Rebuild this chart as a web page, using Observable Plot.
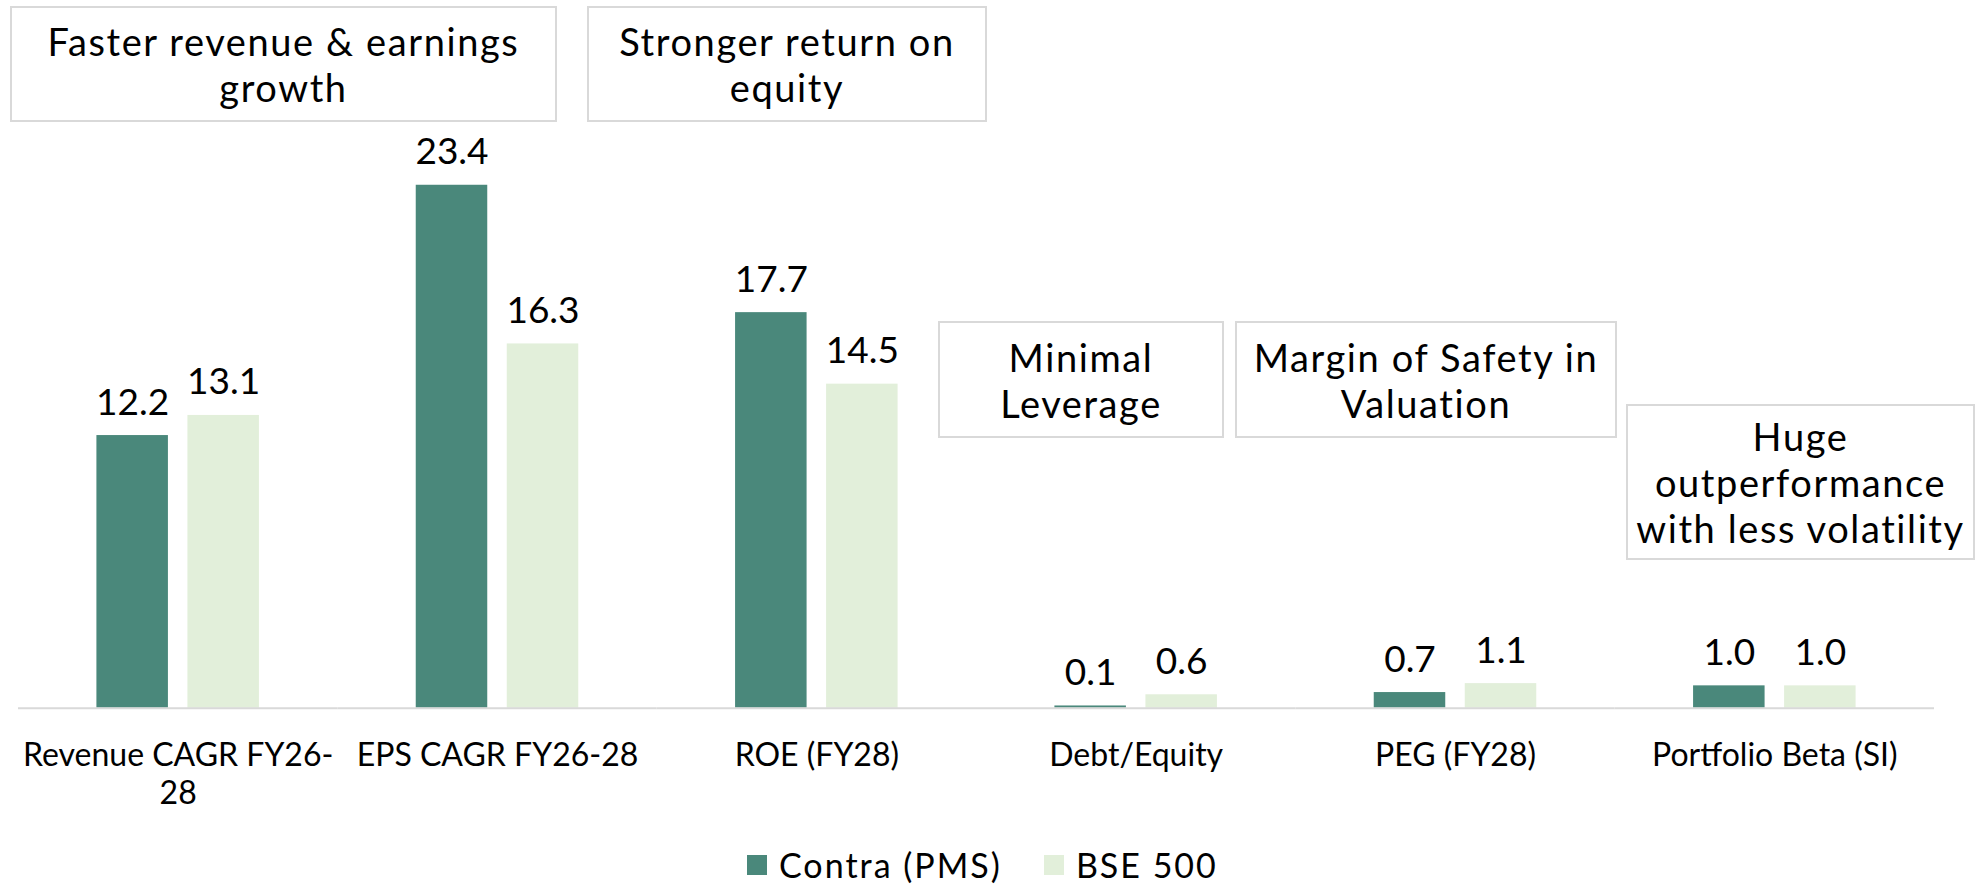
<!DOCTYPE html>
<html>
<head>
<meta charset="utf-8">
<script src="https://cdn.jsdelivr.net/npm/d3@7"></script>
<script src="https://cdn.jsdelivr.net/npm/@observablehq/plot@0.6"></script>
<style>
  html, body { margin: 0; padding: 0; background: #fff; }
  body { width: 1980px; height: 885px; position: relative; font-family: Lato, "Open Sans", sans-serif; color: #000; overflow: hidden; }
  #chart { position: absolute; left: 0; top: 0; }
  .note { position: absolute; box-sizing: border-box; border: 2px solid #d9d9d9; background: #fff;
          display: flex; align-items: center; justify-content: center; text-align: center;
          font-size: 38px; letter-spacing: 1.6px; line-height: 46px; white-space: pre-line; }
  #legend { position: absolute; left: 747px; top: 845px; height: 40px; display: flex; align-items: center; font-size: 34px; letter-spacing: 2px; line-height: 40px; }
  .sw { width: 20px; height: 20px; margin-right: 12px; }
  .item { display: flex; align-items: center; margin-right: 42px; }
</style>
</head>
<body>
<div id="chart"></div>
<script>
// ---- data ----
const categories = ["Revenue CAGR FY26-28", "EPS CAGR FY26-28", "ROE (FY28)", "Debt/Equity", "PEG (FY28)", "Portfolio Beta (SI)"];
const tickLabels = ["Revenue CAGR FY26-\n28", "EPS CAGR FY26-28", "ROE (FY28)", "Debt/Equity", "PEG (FY28)", "Portfolio Beta (SI)"];
const series = ["Contra (PMS)", "BSE 500"];
const contraValues = [12.2, 23.4, 17.7, 0.1, 0.7, 1.0];
const bseValues = [13.1, 16.3, 14.5, 0.6, 1.1, 1.0];
const seriesColors = ["#4A887B", "#E2EFDA"];
const noteTexts = [
  "Faster revenue & earnings\ngrowth",
  "Stronger return on\nequity",
  "Minimal\nLeverage",
  "Margin of Safety in\nValuation",
  "Huge\noutperformance\nwith less volatility"
];

// ---- table ----
const data = [];
categories.forEach((c, i) => {
  data.push({category: c, series: series[0], value: contraValues[i]});
  data.push({category: c, series: series[1], value: bseValues[i]});
});

const chart = Plot.plot({
  width: 1980,
  height: 820,
  marginLeft: 18,
  marginRight: 46,
  marginTop: 149,
  marginBottom: 112.3,
  style: {fontFamily: "Lato, 'Open Sans', sans-serif", fontSize: "32px", color: "#000", background: "transparent"},
  fx: {domain: categories, padding: 0, round: false},
  x: {domain: series, axis: null, paddingInner: 0.2143, paddingOuter: 0.8615, round: false},
  y: {domain: [0, 25], axis: null},
  color: {domain: series, range: seriesColors},
  marks: [
    Plot.barY(data, {fx: "category", x: "series", y: "value", fill: "series"}),
    Plot.ruleY([0], {stroke: "#d9d9d9", strokeWidth: 2}),
    Plot.text(data, {fx: "category", x: "series", y: "value", text: d => d.value.toFixed(1),
      dy: -21, lineAnchor: "bottom", fontSize: 37, fill: "#000"}),
    Plot.axisFx({anchor: "bottom", tickSize: 0, tickPadding: 30.6, label: null, fill: "#000",
      lineHeight: 1.19, fontSize: 32,
      tickFormat: d => tickLabels[categories.indexOf(d)]})
  ]
});
document.getElementById("chart").appendChild(chart);

// ---- annotation boxes (layout) ----
const noteBoxes = [
  {left: 10, top: 6, width: 547, height: 116},
  {left: 587, top: 6, width: 400, height: 116},
  {left: 938, top: 321, width: 286, height: 117},
  {left: 1235, top: 321, width: 382, height: 117},
  {left: 1626, top: 404, width: 349, height: 156}
];
noteTexts.forEach((t, i) => {
  const b = noteBoxes[i];
  const div = document.createElement("div");
  div.className = "note";
  Object.assign(div.style, {left: b.left + "px", top: b.top + "px", width: b.width + "px", height: b.height + "px"});
  div.textContent = t;
  document.body.appendChild(div);
});

// ---- legend ----
const legend = document.createElement("div");
legend.id = "legend";
series.forEach((s, i) => {
  const item = document.createElement("div");
  item.className = "item";
  const sw = document.createElement("div");
  sw.className = "sw";
  sw.style.background = seriesColors[i];
  const label = document.createElement("span");
  label.textContent = s;
  item.appendChild(sw);
  item.appendChild(label);
  legend.appendChild(item);
});
document.body.appendChild(legend);
</script>
</body>
</html>
